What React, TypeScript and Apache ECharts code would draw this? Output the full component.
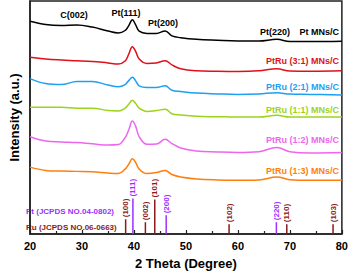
import React, { useEffect, useRef } from "react";
import * as echarts from "echarts";

const twoTheta = [20, 23, 26, 29, 32, 35, 37, 38.3, 39, 39.7, 40.3, 41, 42.5, 44.3, 46, 47.3, 49, 52, 56, 60, 64, 67.5, 70, 74, 80];

const ptMNs = [216.3, 213, 212, 212.7, 210.5, 206.5, 204.5, 207, 212, 218, 213, 206.3, 204, 204, 206.5, 201.5, 199.7, 198, 197, 196.3, 196.3, 198, 195.7, 195.7, 196];
const ptRu31 = [179.7, 178, 177, 176.3, 175.5, 174, 173, 176, 183, 190.5, 186, 178, 173.5, 174, 176.3, 172, 168, 166, 165.5, 165.3, 166, 168, 165.7, 165.5, 166];
const ptRu21 = [158, 153, 152, 155, 155, 151.5, 149.7, 152, 156, 159.5, 156, 150.7, 149, 149, 150.7, 146.3, 145, 143.3, 142.5, 142, 142.5, 143.7, 142.3, 142, 141.3];
const ptRu11 = [129, 129, 129, 128, 128, 125.5, 125, 128, 132, 136, 133, 128, 124.7, 125.5, 127, 122.3, 121, 119.7, 119.3, 119, 119, 120.7, 119, 119, 119];
const ptRu12 = [99, 94.7, 93.7, 93, 91.7, 90.5, 91, 98, 106, 115, 110, 99, 91.3, 91.5, 96.3, 92, 87.5, 84.5, 83.5, 83, 83.7, 88, 83.7, 82.5, 83];
const ptRu13 = [68, 64.7, 64, 63.7, 63.3, 62, 61.5, 66, 71, 76.5, 73, 66, 61.5, 62.5, 64.7, 60.5, 58, 56, 55, 54.7, 55, 58, 55.3, 54.7, 54.7];

const seriesNames = ["Pt MNs/C", "PtRu (3:1) MNs/C", "PtRu (2:1) MNs/C", "PtRu (1:1) MNs/C", "PtRu (1:2) MNs/C", "PtRu (1:3) MNs/C"];
const seriesData = [ptMNs, ptRu31, ptRu21, ptRu11, ptRu12, ptRu13];
const seriesColors = ["#000000", "#e0101a", "#1e9ff2", "#9cd31b", "#ee66ee", "#ff7f0e"];
const seriesLabelY = [32, 61, 87, 110, 140, 171];

const ptRefPos = [39.8, 46.2, 67.4];
const ptRefHeight = [36, 19, 12];
const ptRefLabels = ["(111)", "(200)", "(220)"];
const ruRefPos = [38.4, 42.2, 44.0, 58.3, 69.4, 78.3];
const ruRefHeight = [15, 12, 35, 10, 10, 10];
const ruRefLabels = ["(100)", "(002)", "(101)", "(102)", "(110)", "(103)"];

const peakLabels = ["C(002)", "Pt(111)", "Pt(200)", "Pt(220)"];
const peakLabelPos = [[74, 15], [126, 13], [163, 23], [275, 32]];

const xTicks = [20, 30, 40, 50, 60, 70, 80];

const FONT = "Arial, 'Liberation Sans', sans-serif";
const PT_COLOR = "#9b30ff";
const RU_COLOR = "#8b1a1a";

function refSeries(pos: number[], h: number[], labels: string[], color: string) {
  return {
    type: "custom",
    silent: true,
    data: pos.map((p, i) => [p, h[i]]),
    renderItem: (params: any, api: any) => {
      const x = api.value(0);
      const hv = api.value(1);
      const p0 = api.coord([x, 0]);
      const p1 = api.coord([x, hv]);
      return {
        type: "group",
        children: [
          {
            type: "line",
            shape: { x1: p0[0], y1: p0[1], x2: p1[0], y2: p1[1] },
            style: { stroke: color, lineWidth: 1.5 },
          },
          {
            type: "text",
            x: p1[0],
            y: p1[1] - 2,
            rotation: Math.PI / 2,
            style: {
              text: labels[params.dataIndex],
              fill: color,
              fontSize: 8,
              fontWeight: "bold",
              fontFamily: FONT,
              align: "left",
              verticalAlign: "middle",
            },
          },
        ],
      };
    },
  };
}

export default function App() {
  const ref = useRef<HTMLDivElement>(null);
  useEffect(() => {
    document.body.style.margin = "0";
    const chart = echarts.init(ref.current!, null, { renderer: "svg" });
    const lineSeries = seriesData.map((d, i) => ({
      name: seriesNames[i],
      type: "line",
      data: twoTheta.map((x, j) => [x, d[j]]),
      smooth: 0.4,
      showSymbol: false,
      lineStyle: { color: seriesColors[i], width: 1.5 },
      itemStyle: { color: seriesColors[i] },
    }));
    const graphics: any[] = [];
    peakLabels.forEach((t, i) => {
      graphics.push({
        type: "text",
        x: peakLabelPos[i][0],
        y: peakLabelPos[i][1],
        style: { text: t, fill: "#000", fontSize: 9, fontWeight: "bold", fontFamily: FONT, align: "center", verticalAlign: "middle" },
      });
    });
    seriesNames.forEach((t, i) => {
      graphics.push({
        type: "text",
        x: 339,
        y: seriesLabelY[i],
        style: { text: t, fill: seriesColors[i], fontSize: 9, fontWeight: "bold", fontFamily: FONT, align: "right", verticalAlign: "middle" },
      });
    });
    graphics.push({
      type: "text",
      x: 26,
      y: 211,
      style: { text: "Pt (JCPDS NO.04-0802)", fill: PT_COLOR, fontSize: 8, fontWeight: "bold", fontFamily: FONT, align: "left", verticalAlign: "middle" },
    });
    graphics.push({
      type: "text",
      x: 26,
      y: 227,
      style: { text: "Ru (JCPDS NO.06-0663)", fill: RU_COLOR, fontSize: 8, fontWeight: "bold", fontFamily: FONT, align: "left", verticalAlign: "middle" },
    });

    chart.setOption({
      animation: false,
      backgroundColor: "#fff",
      grid: { left: 23, right: 6, top: 1, bottom: 37, show: true, borderColor: "#222", borderWidth: 1.5 },
      xAxis: {
        type: "value",
        min: 20,
        max: 80,
        interval: 10,
        name: "2 Theta (Degree)",
        nameLocation: "middle",
        nameGap: 23,
        nameTextStyle: { fontSize: 13, fontWeight: "bold", color: "#000", fontFamily: FONT },
        axisLine: { show: true, lineStyle: { color: "#222", width: 1.5 } },
        axisTick: { show: true, inside: true, length: 4, lineStyle: { color: "#222", width: 1.2 } },
        minorTick: { show: true, splitNumber: 2, length: 3, lineStyle: { color: "#222", width: 1.2 } },
        axisLabel: {
          fontSize: 11,
          fontWeight: "bold",
          color: "#000",
          fontFamily: FONT,
          margin: 6,
          formatter: (v: number) => (xTicks.includes(v) ? String(v) : ""),
        },
        splitLine: { show: false },
      },
      yAxis: {
        type: "value",
        min: 0,
        max: 237,
        name: "Intensity (a.u.)",
        nameLocation: "middle",
        nameGap: 9,
        nameTextStyle: { fontSize: 13, fontWeight: "bold", color: "#000", fontFamily: FONT },
        axisLine: { show: true, lineStyle: { color: "#222", width: 1.5 } },
        axisTick: { show: false },
        axisLabel: { show: false },
        splitLine: { show: false },
      },
      graphic: graphics,
      series: [
        ...lineSeries,
        refSeries(ptRefPos, ptRefHeight, ptRefLabels, PT_COLOR),
        refSeries(ruRefPos, ruRefHeight, ruRefLabels, RU_COLOR),
      ],
    });
    return () => chart.dispose();
  }, []);
  return <div ref={ref} style={{ width: 351, height: 275 }} />;
}
